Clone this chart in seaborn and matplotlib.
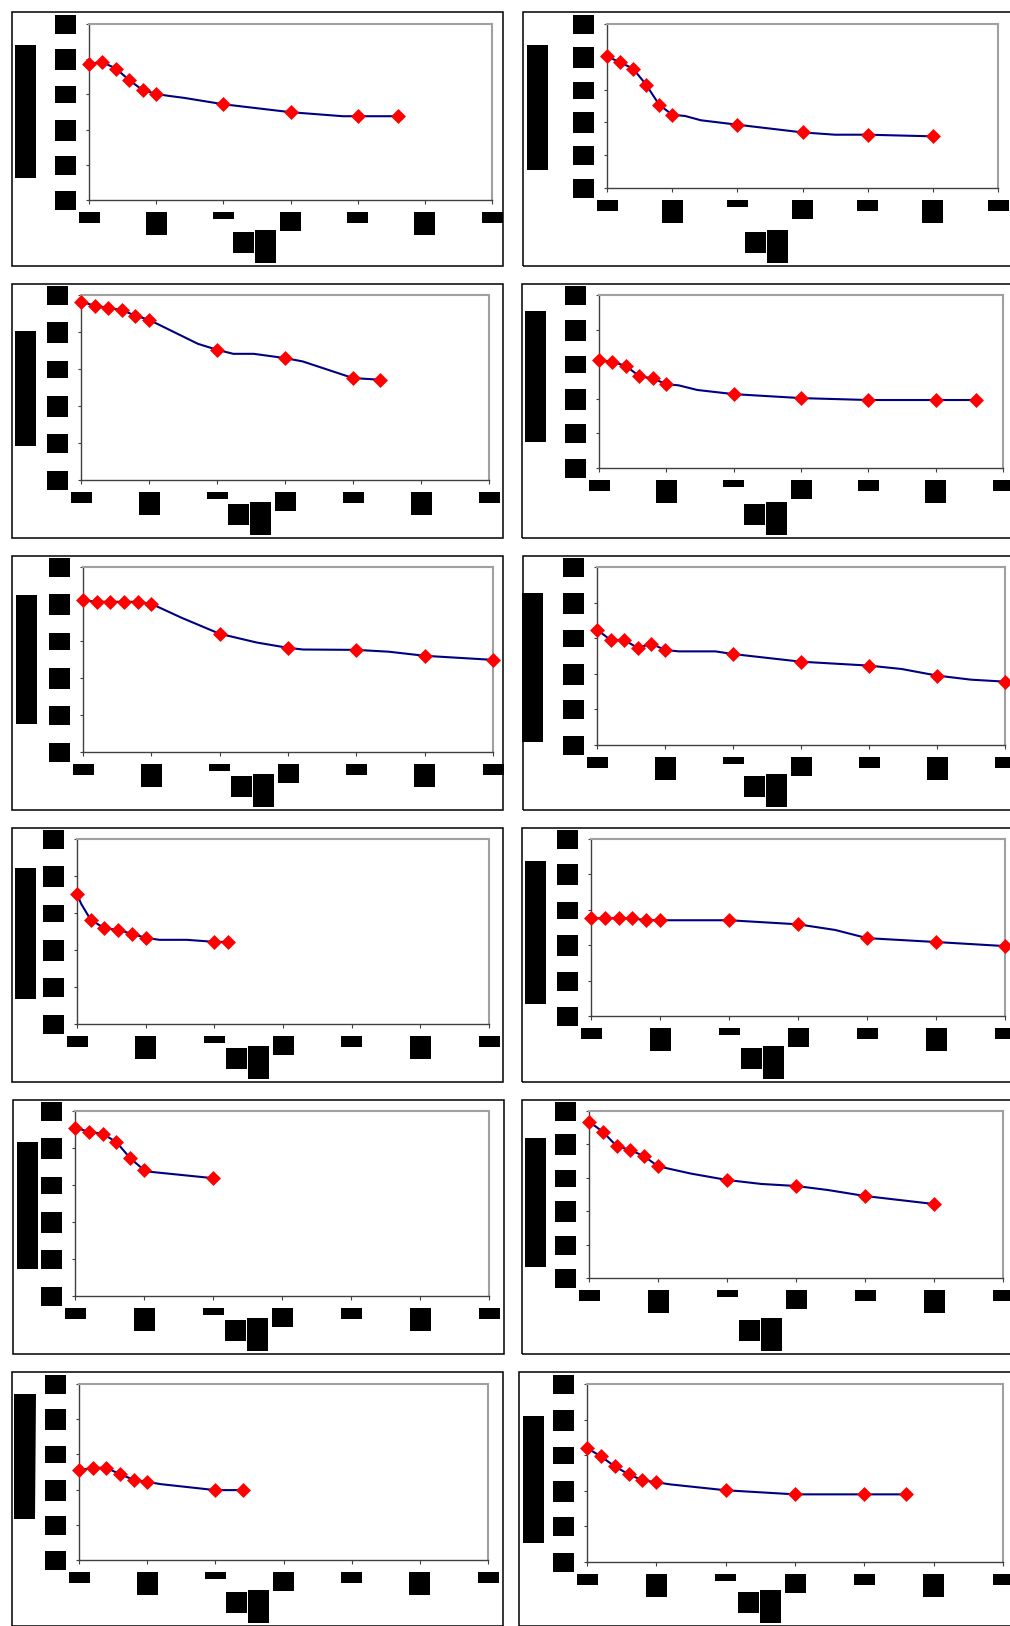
import matplotlib
matplotlib.use("Agg")
import matplotlib.pyplot as plt
from matplotlib.patches import Rectangle
from matplotlib.path import Path
import pandas as pd
import seaborn as sns

sns.set_style("white")
plt.rcParams["font.family"] = ["DejaVu Sans"]

W, H = 1010, 1626

# --- data: marker points and the extra bends of the connecting line, per panel
p1_x = [0, 10, 20, 30, 40, 50, 100, 150, 200, 230]
p1_y = [0.775, 0.783, 0.747, 0.681, 0.624, 0.603, 0.544, 0.499, 0.476, 0.476]
p1_bx = [59, 71, 189]
p1_by = [0.592, 0.580, 0.476]

p2_x = [0, 10, 20, 30, 40, 50, 100, 150, 200, 250]
p2_y = [0.803, 0.766, 0.728, 0.630, 0.508, 0.447, 0.386, 0.339, 0.325, 0.315]
p2_bx = [60, 72, 175]
p2_by = [0.439, 0.413, 0.325]

p3_x = [0, 10, 20, 30, 40, 50, 100, 150, 200, 220]
p3_y = [0.964, 0.942, 0.931, 0.919, 0.888, 0.866, 0.704, 0.659, 0.551, 0.542]
p3_bx = [86, 112, 127, 163]
p3_by = [0.736, 0.682, 0.682, 0.641]

p4_x = [0, 10, 20, 30, 40, 50, 100, 150, 200, 250, 280]
p4_y = [0.625, 0.613, 0.590, 0.530, 0.518, 0.484, 0.427, 0.404, 0.393, 0.393, 0.393]
p4_bx = [59, 73]
p4_by = [0.478, 0.451]

p5_x = [0, 10, 20, 30, 40, 50, 100, 150, 200, 250, 300]
p5_y = [0.821, 0.812, 0.812, 0.812, 0.812, 0.801, 0.639, 0.563, 0.552, 0.520, 0.498]
p5_bx = [72, 127, 161, 224]
p5_by = [0.726, 0.592, 0.554, 0.542]

p6_x = [0, 10, 20, 30, 40, 50, 100, 150, 200, 250, 300]
p6_y = [0.648, 0.590, 0.590, 0.545, 0.569, 0.534, 0.511, 0.468, 0.446, 0.390, 0.356]
p6_bx = [60, 87, 224, 275]
p6_by = [0.526, 0.526, 0.427, 0.367]

p7_x = [0, 10, 20, 30, 40, 50, 100, 110]
p7_y = [0.704, 0.563, 0.518, 0.509, 0.487, 0.466, 0.444, 0.444]
p7_bx = [3, 60, 80]
p7_by = [0.650, 0.455, 0.455]

p8_x = [0, 10, 20, 30, 40, 50, 100, 150, 200, 250, 300]
p8_y = [0.552, 0.552, 0.552, 0.552, 0.541, 0.541, 0.541, 0.518, 0.440, 0.418, 0.395]
p8_bx = [177]
p8_by = [0.486]

p9_x = [0, 10, 20, 30, 40, 50, 100]
p9_y = [0.910, 0.888, 0.877, 0.832, 0.745, 0.681, 0.637]
p9_bx = [55]
p9_by = [0.671]

p10_x = [0, 10, 20, 30, 40, 50, 100, 150, 200, 250]
p10_y = [0.936, 0.876, 0.790, 0.766, 0.729, 0.669, 0.587, 0.551, 0.491, 0.443]
p10_bx = [74, 125, 173]
p10_by = [0.625, 0.563, 0.527]

p11_x = [0, 10, 20, 30, 40, 50, 100, 120]
p11_y = [0.510, 0.524, 0.524, 0.488, 0.456, 0.444, 0.397, 0.397]
p11_bx = [60]
p11_by = [0.431]

p12_x = [0, 10, 20, 30, 40, 50, 100, 150, 200, 230]
p12_y = [0.640, 0.594, 0.537, 0.493, 0.459, 0.448, 0.403, 0.380, 0.380, 0.380]
p12_bx = [60]
p12_by = [0.436]

panels = [
    (p1_x, p1_y, p1_bx, p1_by), (p2_x, p2_y, p2_bx, p2_by),
    (p3_x, p3_y, p3_bx, p3_by), (p4_x, p4_y, p4_bx, p4_by),
    (p5_x, p5_y, p5_bx, p5_by), (p6_x, p6_y, p6_bx, p6_by),
    (p7_x, p7_y, p7_bx, p7_by), (p8_x, p8_y, p8_bx, p8_by),
    (p9_x, p9_y, p9_bx, p9_by), (p10_x, p10_y, p10_bx, p10_by),
    (p11_x, p11_y, p11_bx, p11_by), (p12_x, p12_y, p12_bx, p12_by),
]

x_ticks = [0, 50, 100, 150, 200, 250, 300]
x_labels = ["0", "50", "100", "150", "200", "250", "300"]
y_ticks = [0.0, 0.2, 0.4, 0.6, 0.8, 1.0]
y_labels = ["0.0", "0.2", "0.4", "0.6", "0.8", "1.0"]
y_title = "Relative value"
x_title = ["Time", "(min)"]

# --- layout in pixels
# plot area: left, right, top, bottom
axes_px = [
    (89, 492, 24, 200), (607, 998, 24, 188),
    (81, 489, 295, 480), (599, 1003, 295, 468),
    (83, 493, 567, 752), (597, 1005, 567, 745),
    (77, 489, 839, 1024), (591, 1005, 839, 1016),
    (75, 489, 1111, 1296), (589, 1003, 1111, 1278),
    (79, 488, 1384, 1560), (587, 1003, 1384, 1562),
]
# chart frame: left, top
frame_px = [
    (12, 12), (523, 12), (12, 284), (522, 284), (12, 556), (523, 556),
    (12, 828), (522, 828), (13, 1100), (522, 1100), (12, 1372), (519, 1372),
]
# y title block: distance left of axis, block height, centre y
ytitle_px = [
    (63.5, 133, 112), (70, 125, 108), (55.5, 115, 389), (64, 131, 377),
    (56, 129, 660), (65, 149, 668), (51.5, 131, 933), (56, 143, 933),
    (47.5, 127, 1205), (54, 129, 1202), (54, 125, 1456), (53.5, 127, 1479),
]
xtick_box_h = [11, 23, 7, 19, 11, 23, 11]
ytick_box_h = [19, 19, 21, 17, 21, 19]


def block(w, h, halign="center", valign="center"):
    def style(x0, y0, width, height, mutation_size):
        left = x0 + width - w if halign == "right" else x0 + (width - w) / 2
        bottom = y0 + height - h if valign == "top" else y0 + (height - h) / 2
        return Path([(left, bottom), (left + w, bottom), (left + w, bottom + h),
                     (left, bottom + h), (left, bottom)], closed=True)
    return style


def black_box(w, h, halign="center", valign="center"):
    return dict(boxstyle=block(w, h, halign, valign), facecolor="black",
                edgecolor="none")


fig = plt.figure(figsize=(W / 100, H / 100), dpi=100)
fig.patch.set_facecolor("white")

for (fx, fy) in frame_px:
    fw = 491 if fx < 300 else 1030 - fx
    fig.add_artist(Rectangle((fx / W, 1 - (fy + 254) / H), fw / W, 254 / H,
                             transform=fig.transFigure, fill=False,
                             edgecolor="black", lw=1.1))

for i, (xs, ys, bx, by) in enumerate(panels):
    x0, x1, top, bot = axes_px[i]
    aw, ah = x1 - x0, bot - top
    ax = fig.add_axes([x0 / W, 1 - bot / H, aw / W, ah / H])

    line = pd.DataFrame({"x": xs + bx, "y": ys + by}).sort_values("x")
    sns.lineplot(data=line, x="x", y="y", ax=ax, color="#000080", lw=1.5,
                 sort=True, estimator=None)
    sns.scatterplot(x=xs, y=ys, ax=ax, marker="D", s=58, color="#ff0000",
                    linewidth=0, zorder=3, clip_on=False)

    ax.set_xlim(0, 300)
    ax.set_ylim(0, 1.0)
    ax.set_facecolor("white")
    for side in ["top", "right"]:
        ax.spines[side].set_color("#a0a0a0")
        ax.spines[side].set_linewidth(1.5)
    for side in ["left", "bottom"]:
        ax.spines[side].set_color("#404040")
        ax.spines[side].set_linewidth(1.0)

    ax.tick_params(axis="y", direction="out", length=2.2, width=0.8,
                   color="#404040", pad=7.2, labelsize=5, labelcolor="black",
                   left=True)
    ax.tick_params(axis="x", direction="out", length=2.9, width=0.8,
                   color="#404040", pad=5.8, labelsize=5, labelcolor="black",
                   bottom=True)
    ax.set_xticks(x_ticks)
    for lab, h in zip(ax.set_xticklabels(x_labels), xtick_box_h):
        lab.set_bbox(black_box(21, h, "center", "top"))
    ax.set_yticks(y_ticks)
    for lab, h in zip(ax.set_yticklabels(y_labels), ytick_box_h):
        lab.set_bbox(black_box(21, h, "right", "center"))

    off, yh, ycen = ytitle_px[i]
    ax.set_ylabel(y_title, fontsize=5, color="black", va="center",
                  bbox=black_box(yh, 21))
    ax.yaxis.set_label_coords(-off / aw, (bot - ycen) / ah)

    fx, fy = frame_px[i]
    cx = (x0 + x1) / 2 - 36
    ax.set_xlabel(x_title[0], fontsize=5, color="black", va="center",
                  bbox=black_box(21, 21))
    ax.xaxis.set_label_coords((cx - 11 - x0) / aw, (bot - (fy + 230.5)) / ah)
    ax.text((cx + 11 - x0) / aw, (bot - (fy + 234.5)) / ah, x_title[1],
            transform=ax.transAxes, fontsize=5, color="black",
            ha="center", va="center", bbox=black_box(21, 33))

fig.savefig("out.png", dpi=100)
